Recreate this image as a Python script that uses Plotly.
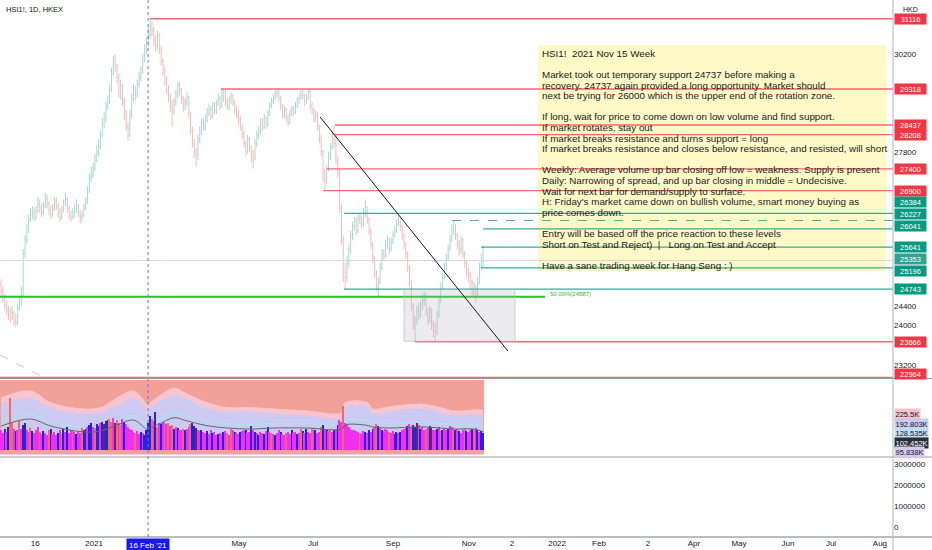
import math
import plotly.graph_objects as go

# daily bars of HSI1! (HKEX); open = previous close
first_open = 24850
closes = [
    24700, 24550, 24400, 24300, 24200, 24150, 24250, 24100, 24050, 24350,
    24500, 24600, 25500, 25800, 26000, 26250, 26350, 26400, 26300, 26450,
    26600, 26500, 26400, 26550, 26700, 26600, 26450, 26350, 26500, 26650,
    26550, 26400, 26300, 26450, 26600, 26700, 26500, 26350, 26300, 26400,
    26500, 26550, 26400, 26300, 26350, 26500, 26650, 26900, 27200, 27250,
    27400, 27600, 27800, 27900, 28200, 28450, 28600, 28900, 29000, 29300,
    29700, 30000, 29900, 29600, 29200, 29400, 29000, 28700, 28400, 28200,
    28700, 29100, 29300, 29200, 29450, 29600, 29800, 30100, 30300, 30500,
    30700, 30950, 30800, 30600, 30400, 30700, 30300, 30000, 29800, 29500,
    29300, 29100, 28900, 28800, 29000, 29200, 29400, 29300, 29100, 28900,
    29000, 29100, 28700, 28300, 28000, 27800, 27700, 28100, 28300, 28500,
    28400, 28600, 28700, 28800, 28650, 28900, 28800, 28950, 29050, 28900,
    29100, 29250, 29000, 28900, 29050, 29150, 29000, 28800, 28700, 28600,
    28400, 28200, 28000, 27800, 28100, 27900, 27700, 27650, 28000, 28200,
    28300, 28500, 28400, 28600, 28450, 28700, 28900, 29000, 29100, 29200,
    29250, 29100, 28900, 28700, 28800, 28600, 28500, 28700, 28800, 28750,
    28900, 29000, 29100, 29200, 29150, 29000, 29100, 29250, 28900, 28800,
    28600, 28700, 28400, 28100, 27800, 27300, 27150, 27400, 27700, 27900,
    28200, 28000, 27600, 27300, 26500, 25800, 25100, 25000, 25300, 25600,
    25900, 26100, 26200, 26000, 26250, 26300, 26150, 26350, 26450, 26250,
    26000, 25700, 25400, 25100, 24800, 24900, 25200, 25500, 25450, 25700,
    25800, 25600, 25750, 25900, 26000, 26150, 26200, 26100, 25900, 25700,
    25500, 25200, 24900, 24400, 24000, 24100, 24300, 24200, 24400, 24500,
    24600, 24300, 24100, 24300, 24000, 23900, 23850, 24200, 24500, 24800,
    25000, 25200, 25400, 25600, 25800, 26000, 26050, 25900, 25700, 25600,
    25800, 25500, 25300, 25100, 25000, 24900, 24700, 24800, 24650, 24900,
    25200, 25350, 25353,
]
highs = [
    24950, 24800, 24650, 24500, 24400, 24350, 24400, 24300, 24250, 24450,
    24600, 24800, 25600, 25900, 26150, 26350, 26500, 26550, 26500, 26550,
    26750, 26700, 26600, 26650, 26850, 26800, 26650, 26550, 26600, 26750,
    26750, 26600, 26500, 26550, 26700, 26850, 26750, 26550, 26450, 26500,
    26600, 26700, 26600, 26450, 26450, 26600, 26750, 27000, 27300, 27450,
    27550, 27750, 27950, 28100, 28300, 28600, 28750, 29000, 29150, 29450,
    29850, 30150, 30200, 29950, 29700, 29550, 29450, 29100, 28800, 28500,
    28800, 29200, 29450, 29400, 29550, 29750, 29900, 30200, 30450, 30650,
    30900, 31116, 31050, 30900, 30700, 30800, 30750, 30400, 30100, 29900,
    29650, 29400, 29200, 29050, 29100, 29300, 29500, 29500, 29350, 29150,
    29100, 29250, 29150, 28750, 28400, 28100, 27900, 28200, 28400, 28600,
    28600, 28700, 28850, 28950, 28900, 29000, 29000, 29050, 29200, 29150,
    29318, 29300, 29300, 29100, 29150, 29250, 29200, 29050, 28900, 28800,
    28650, 28450, 28300, 28050, 28200, 28150, 27950, 27850, 28100, 28300,
    28400, 28600, 28600, 28700, 28650, 28800, 29000, 29100, 29200, 29300,
    29318, 29300, 29150, 28950, 28900, 28850, 28700, 28800, 28900, 28900,
    29000, 29100, 29200, 29300, 29300, 29200, 29200, 29310, 29300, 29000,
    28850, 28800, 28750, 28450, 28200, 27850, 27400, 27500, 27800, 28000,
    28300, 28437, 28208, 27700, 27400, 26600, 25900, 25300, 25450, 25700,
    26000, 26200, 26300, 26300, 26350, 26400, 26350, 26500, 26700, 26550,
    26300, 26050, 25750, 25450, 25150, 25000, 25300, 25600, 25600, 25800,
    25900, 25850, 25850, 26000, 26100, 26250, 26350, 26300, 26150, 25950,
    25750, 25550, 25250, 24950, 24450, 24200, 24400, 24450, 24500, 24650,
    24700, 24650, 24350, 24400, 24350, 24100, 24050, 24300, 24600, 24900,
    25100, 25300, 25500, 25700, 25900, 26150, 26227, 26150, 25950, 25800,
    25900, 25850, 25550, 25350, 25200, 25100, 24950, 24900, 24850, 25000,
    25300, 25500, 25680,
]
lows = [
    24600, 24450, 24300, 24200, 24100, 24050, 24100, 24000, 23950, 24000,
    24300, 24400, 24600, 25400, 25700, 25950, 26200, 26250, 26200, 26250,
    26400, 26400, 26300, 26350, 26500, 26500, 26350, 26250, 26300, 26450,
    26450, 26300, 26200, 26250, 26400, 26550, 26400, 26250, 26200, 26250,
    26300, 26400, 26300, 26150, 26200, 26300, 26450, 26600, 26850, 27100,
    27200, 27350, 27550, 27700, 27850, 28150, 28350, 28500, 28800, 28950,
    29250, 29650, 29750, 29450, 29100, 29050, 28900, 28550, 28300, 28050,
    28150, 28600, 29000, 29050, 29100, 29350, 29500, 29700, 30000, 30200,
    30400, 30600, 30650, 30400, 30250, 30300, 30200, 29900, 29650, 29400,
    29200, 29000, 28750, 28400, 28700, 28900, 29100, 29150, 28950, 28750,
    28800, 28900, 28600, 28200, 27900, 27650, 27450, 27600, 28000, 28200,
    28300, 28300, 28500, 28650, 28550, 28600, 28700, 28700, 28900, 28800,
    28850, 29000, 28900, 28800, 28800, 28950, 28900, 28700, 28600, 28450,
    28300, 28100, 27900, 27700, 27750, 27800, 27550, 27400, 27600, 27900,
    28100, 28200, 28300, 28350, 28350, 28400, 28650, 28850, 28950, 29050,
    29100, 29000, 28800, 28600, 28600, 28500, 28400, 28450, 28650, 28650,
    28700, 28850, 28950, 29050, 29050, 28900, 28950, 29050, 28800, 28700,
    28500, 28500, 28300, 28000, 27700, 27100, 26900, 27050, 27350, 27600,
    27850, 27900, 27500, 27200, 26400, 25700, 24900, 24743, 24900, 25200,
    25500, 25800, 26000, 25900, 25950, 26150, 26050, 26100, 26300, 26150,
    25900, 25600, 25300, 25000, 24700, 24550, 24850, 25150, 25350, 25400,
    25600, 25500, 25550, 25700, 25850, 25950, 26100, 26000, 25800, 25600,
    25400, 25100, 24800, 24300, 23900, 23666, 24000, 24100, 24150, 24300,
    24400, 24200, 24000, 24050, 23900, 23750, 23680, 23800, 24150, 24450,
    24750, 24950, 25150, 25350, 25550, 25750, 25900, 25800, 25600, 25450,
    25500, 25400, 25200, 25000, 24900, 24750, 24600, 24600, 24450, 24600,
    24850, 25150, 25200,
]

# volume-style indicator (values in K)
vol = [
    110, 95, 120, 100, 130, 295, 150, 120, 105, 115,
    165, 120, 140, 150, 110, 100, 125, 105, 95, 110,
    130, 100, 90, 105, 95, 85, 110, 120, 90, 100,
    85, 95, 110, 90, 120, 100, 130, 95, 115, 105,
    100, 90, 105, 95, 125, 110, 120, 130, 140, 150,
    130, 125, 145, 135, 150, 160, 145, 165, 170, 175,
    160, 180, 150, 170, 155, 140, 175, 160, 145, 130,
    120, 110, 100, 95, 105, 90, 100, 95, 85, 110,
    150, 190, 175, 165, 215, 130, 155, 145, 160, 150,
    145, 150, 135, 140, 120, 130, 125, 115, 110, 120,
    110, 120, 130, 145, 155, 135, 125, 115, 105, 110,
    100, 95, 105, 90, 110, 95, 100, 85, 90, 95,
    90, 100, 105, 95, 85, 120, 110, 100, 95, 90,
    100, 105, 110, 115, 95, 100, 135, 110, 100, 95,
    85, 100, 95, 90, 105, 130, 100, 95, 90, 85,
    95, 110, 100, 90, 85, 95, 100, 90, 110, 95,
    100, 90, 95, 120, 105, 95, 120, 100, 95, 120,
    110, 115, 95, 100, 130, 140, 120, 110, 105, 115,
    100, 110, 120, 140, 170, 160, 248, 150, 140, 130,
    120, 115, 110, 105, 100, 95, 90, 105, 100, 95,
    110, 100, 120, 130, 145, 135, 125, 115, 105, 120,
    110, 100, 95, 105, 90, 100, 95, 100, 110, 120,
    125, 135, 145, 130, 140, 130, 150, 140, 120, 130,
    110, 120, 125, 135, 130, 115, 110, 120, 130, 105,
    115, 125, 110, 120, 135, 130, 125, 110, 120, 105,
    95, 110, 120, 105, 100, 115, 120, 110, 125, 110,
    100, 105, 95.838,
]
vol_kind = (
    "mmbmbrrmbm" "rmbbmmrbmm" "mrmbmmrbmm" "mbmrbmbmmr" "mbmmrbbmbb"
    "mrbbmbdbbr" "rmdrmrmbmm" "mmmrmmbmbb" "bbrmbrmbmr" "mrmrbmbmmr"
    "bmmrbbdmmb" "mmbmmbmmbm" "mbmrmrmbmm" "bmmbmmbmbm" "bmmbmbmrmb"
    "mmbmmrmmbm" "mbmrbmbmmr" "mbmmrbmbmr" "mbmbmmrmmm" "mmmmmrmmbm"
    "bmbmrbmbmm" "mrmmbbmbmm" "mbmrbbdmbm" "mrmbdmmbmr" "bmmbmmrbmb"
    "mmrbmmbrmb" "mbb"
)
# band curves of the indicator (K), sampled at these bars
band_bars = [0, 16, 27, 45, 54, 63, 72, 77, 79, 86, 94, 101, 112, 123,
             135, 148, 166, 185, 187, 199, 202, 211, 228, 239, 246, 257, 262]
band_pink = [295, 333, 267, 231, 239, 295, 333, 288, 259, 305, 348, 316, 267, 239,
             239, 231, 220, 210, 267, 267, 231, 244, 259, 239, 220, 226, 225.5]
band_lav = [259, 288, 231, 203, 209, 248, 288, 254, 220, 271, 305, 282, 231, 210,
            214, 203, 192, 182, 239, 237, 203, 214, 231, 209, 192, 197, 192.803]
band_blue = [160, 200, 160, 128, 132, 166, 195, 160, 143, 172, 208, 190, 162, 149,
             143, 149, 149, 143, 166, 164, 155, 149, 155, 149, 143, 140, 128.535]
band_ma = [135, 175, 135, 102, 107, 141, 169, 135, 118, 147, 182, 164, 137, 124,
           118, 124, 124, 118, 141, 139, 130, 124, 130, 124, 118, 118, 102.452]

# drawn levels: (price, first bar)
red_levels = [31116, 29318, 28437, 28208, 27400, 26900, 23666, 22964]
red_starts = [81, 119.6, 181.5, 181.5, 177.2, 175, 225, -0.6]
teal_levels = [26384, 26041, 25641, 25196, 24743]
teal_starts = [186.4, 262, 260.9, 260.9, 186.4]
dashed_level, dashed_start = 26227, 245.1
last_price = 25353
fib_level, fib_end = 24587, 295.7
zone_bars = [219, 279.3]
zone_prices = [24743, 23675]
trend_bars = [173.4, 275.5]
trend_prices = [28630, 23480]
faint_bars = [-0.6, 22.8]
faint_prices = [23400, 22970]
cross_bar = 79.9

tick_bars = [18.5, 50.5, 129.3, 169.6, 213, 254.3, 277.7, 302.2, 325,
             351.6, 376.6, 401.1, 427.7, 451.1, 477.7]
tick_text = ["16", "2021", "May", "Jul", "Sep", "Nov", "2", "2022", "Feb",
             "2", "Apr", "May", "Jun", "Jul", "Aug"]
price_ticks = [30200, 27800, 24400, 24000, 23200]
volume_ticks = [0, 1000000, 2000000, 3000000]

note_lines = [
    "HSI1!  2021 Nov 15 Week",
    "",
    "Market took out temporary support 24737 before making a",
    "recovery. 24737 again provided a long opportunity. Market should",
    "next be trying for 26000 which is the upper end of the rotation zone.",
    "",
    "If long, wait for price to come down on low volume and find support.",
    "If market rotates, stay out",
    "If market breaks resistance and turns support = long",
    "If market breaks resistance and closes below resistance, and resisted, will short",
    "",
    "Weekly: Average volume up bar closing off low = weakness. Supply is present",
    "Daily: Narrowing of spread, and up bar closing in middle = Undecisive.",
    "Wait for next bar for demand/supply to surface.",
    "H: Friday's market came down on bullish volume, smart money buying as",
    "price comes down.",
    "",
    "Entry will be based off the price reaction to these levels",
    "Short on Test and Reject)  |   Long on Test and Accept",
    "",
    "Have a sane trading week for Hang Seng : )",
]

# ---- layout helpers (pixel -> paper) ----
W, H = 932, 550
PW, PH = 893, 537
X_MAX = 484.8
RED, TEAL = "#f23645", "#089981"
RED_LINE, TEAL_LINE = "rgba(242,54,69,0.75)", "rgba(8,153,129,0.8)"
FONT = "Liberation Sans"


def px_x(px):
    return px / PW


def px_y(py):
    return 1 - py / PH


bars = list(range(len(closes)))
opens = [first_open] + closes[:-1]

fig = go.Figure()

fig.add_trace(go.Ohlc(
    x=bars, open=opens, high=highs, low=lows, close=closes,
    increasing_line_color="#a6dad3", decreasing_line_color="#f6bcbc",
    line_width=1, tickwidth=0.35, hoverinfo="skip", xaxis="x", yaxis="y"))


def hline(level, x0, x1, color, width=1.2, dash="solid"):
    fig.add_trace(go.Scatter(
        x=[x0, x1], y=[level, level], mode="lines", hoverinfo="skip",
        line=dict(color=color, width=width, dash=dash), xaxis="x", yaxis="y"))


hline(last_price, -0.6, X_MAX, "#d6d8de", 1.2)
for lvl, st in zip(red_levels, red_starts):
    hline(lvl, st, X_MAX, RED_LINE, 1.3)
for lvl, st in zip(teal_levels, teal_starts):
    hline(lvl, st, X_MAX, TEAL_LINE, 1.2)
hline(dashed_level, dashed_start, X_MAX, "rgba(8,153,129,0.75)", 1.2, "dash")
hline(fib_level, -0.6, fib_end, "#2bc02b", 2)

fig.add_trace(go.Scatter(
    x=[zone_bars[0], zone_bars[1], zone_bars[1], zone_bars[0], zone_bars[0]],
    y=[zone_prices[0], zone_prices[0], zone_prices[1], zone_prices[1], zone_prices[0]],
    mode="lines", fill="toself", fillcolor="rgba(178,181,190,0.25)",
    line=dict(color="rgba(178,181,190,0.6)", width=1), hoverinfo="skip",
    xaxis="x", yaxis="y"))
fig.add_trace(go.Scatter(
    x=trend_bars, y=trend_prices, mode="lines", hoverinfo="skip",
    line=dict(color="#131722", width=1), xaxis="x", yaxis="y"))
fig.add_trace(go.Scatter(
    x=faint_bars, y=faint_prices, mode="lines", hoverinfo="skip",
    line=dict(color="#c8cad0", width=1, dash="dash"), xaxis="x", yaxis="y"))

# indicator pane: bands on y2, bars and average on y4 drawn over them
fig.add_trace(go.Scatter(
    x=band_bars, y=band_pink, mode="lines", line=dict(color="#f8c4cf", width=1, shape="spline"),
    fill="tozeroy", fillcolor="#f8c4cf", hoverinfo="skip", xaxis="x", yaxis="y2"))
fig.add_trace(go.Scatter(
    x=band_bars, y=band_lav, mode="lines", line=dict(color="#cccaf3", width=1, shape="spline"),
    fill="tozeroy", fillcolor="#cccaf3", hoverinfo="skip", xaxis="x", yaxis="y2"))
fig.add_trace(go.Scatter(
    x=band_bars, y=band_blue, mode="lines", line=dict(color="#aee0ef", width=1.5, shape="spline"),
    hoverinfo="skip", xaxis="x", yaxis="y2"))
kind_color = {"b": "#2525dc", "m": "#f22ef2", "r": "#f06a6a", "d": "#5b2b6e"}
fig.add_trace(go.Bar(
    x=bars, y=vol, width=0.78, marker=dict(color=[kind_color[k] for k in vol_kind], line_width=0),
    hoverinfo="skip", xaxis="x", yaxis="y4"))
fig.add_trace(go.Scatter(
    x=band_bars, y=band_ma, mode="lines", line=dict(color="#5a6b6b", width=1, shape="spline"),
    hoverinfo="skip", xaxis="x", yaxis="y4"))

# empty volume pane
fig.add_trace(go.Scatter(x=[None], y=[None], mode="lines", xaxis="x", yaxis="y3",
                         hoverinfo="skip"))

ind_range = [-39.5, 406]

shapes = [
    # note box
    dict(type="rect", xref="paper", yref="paper", x0=px_x(538), x1=px_x(886),
         y0=px_y(271), y1=px_y(45), fillcolor="rgba(255,241,118,0.4)",
         line_width=0, layer="below"),
    # indicator background
    dict(type="rect", xref="x", yref="y2", x0=-0.6, x1=len(closes) - 0.5,
         y0=-25, y1=395, fillcolor="#f2a198", line_width=0, layer="below"),
    # crosshair
    dict(type="line", xref="x", yref="paper", x0=cross_bar, x1=cross_bar, y0=0, y1=1,
         line=dict(color="#6a6aff", width=1, dash="dot")),
]
for py in (378.5, 457):
    shapes.append(dict(type="line", xref="paper", yref="paper", x0=0, x1=W / PW,
                       y0=px_y(py), y1=px_y(py), line=dict(color="#9598a1", width=1)))
shapes.append(dict(type="line", xref="paper", yref="paper", x0=0, x1=W / PW,
                   y0=0, y1=0, line=dict(color="#787b86", width=1)))
shapes.append(dict(type="line", xref="paper", yref="paper", x0=1, x1=1,
                   y0=-13 / PH, y1=1, line=dict(color="#b2b5be", width=1)))

ann = []
for i, line in enumerate(note_lines):
    if line:
        ann.append(dict(xref="paper", yref="paper", x=px_x(540), y=px_y(53.3 + 10.6 * i),
                        xanchor="left", yanchor="middle", showarrow=False, text=line,
                        font=dict(family=FONT, size=9.8, color="#222222")))


def tag(level, color, shift=0):
    ann.append(dict(xref="paper", yref="y", x=1, y=math.log10(level), xanchor="left",
                    yanchor="middle", xshift=1, yshift=shift, showarrow=False,
                    text=str(level), bgcolor=color, borderpad=0.5, width=30,
                    font=dict(family=FONT, size=7.5, color="white")))


red_shift = {22964: 3}
for lvl in red_levels:
    tag(lvl, RED, red_shift.get(lvl, 0))
teal_shift = {26384: 11, 26041: 3, 25196: -3}
for lvl in teal_levels:
    tag(lvl, TEAL, teal_shift.get(lvl, 0))
tag(dashed_level, TEAL, 6)
tag(last_price, "#2fa394", 1.5)

# indicator value tags (stacked)
ind_tags = [(band_pink[-1], "#f6c1cf", "#131722", 414), (band_lav[-1], "#c9c9f1", "#131722", 423.5),
            (band_blue[-1], "#bfdcf5", "#131722", 433), (band_ma[-1], "#2a2e39", "white", 442.5),
            (vol[-1], "#d3c9ef", "#131722", 452)]
for val, bg, fc, py in ind_tags:
    ann.append(dict(xref="paper", yref="paper", x=1, y=px_y(py), xanchor="left",
                    yanchor="middle", xshift=1, showarrow=False, text=f"{val:g}K",
                    bgcolor=bg, borderpad=0.5, font=dict(family=FONT, size=7.5, color=fc)))

ann.append(dict(xref="paper", yref="paper", x=px_x(4), y=px_y(9), xanchor="left",
                yanchor="middle", showarrow=False, text="HSI1!, 1D, HKEX",
                font=dict(family=FONT, size=7.5, color="#131722")))
ann.append(dict(xref="paper", yref="paper", x=px_x(910), y=px_y(10), xanchor="center",
                yanchor="middle", showarrow=False, text="HKD",
                font=dict(family=FONT, size=7, color="#131722")))
ann.append(dict(xref="paper", yref="paper", x=px_x(548), y=px_y(293.5), xanchor="left",
                yanchor="middle", showarrow=False, text=f"50.00%({fib_level})",
                font=dict(family=FONT, size=6, color="#2bc02b")))
ann.append(dict(xref="x", yref="paper", x=cross_bar, y=0, xanchor="center", yanchor="top",
                yshift=-1, showarrow=False, text="16 Feb '21", bgcolor="#1a1ae6", borderpad=2,
                font=dict(family=FONT, size=8, color="white")))

fig.update_layout(
    width=W, height=H, margin=dict(l=0, r=W - PW, t=0, b=H - PH),
    paper_bgcolor="white", plot_bgcolor="white", showlegend=False, hovermode=False,
    font=dict(family=FONT, size=8, color="#131722"),
    shapes=shapes, annotations=ann, bargap=0,
    xaxis=dict(domain=[0, 1], range=[-0.6, X_MAX], anchor="y3", tickmode="array",
               tickvals=tick_bars, ticktext=tick_text, showgrid=False, zeroline=False,
               showline=False, ticks="", tickfont=dict(size=8), rangeslider=dict(visible=False)),
    yaxis=dict(type="log", domain=[1 - 378 / PH, 1], anchor="x", side="right",
               range=[math.log10(22950), math.log10(31614)], tickmode="array",
               tickvals=price_ticks, ticktext=[str(v) for v in price_ticks],
               showgrid=False, zeroline=False, ticks="", tickfont=dict(size=8)),
    yaxis2=dict(domain=[1 - 457 / PH, 1 - 378 / PH], anchor="x", side="right",
                range=ind_range, showticklabels=False, showgrid=False, zeroline=False),
    yaxis4=dict(overlaying="y2", anchor="x", side="right", range=ind_range,
                showticklabels=False, showgrid=False, zeroline=False),
    yaxis3=dict(domain=[0, 1 - 457 / PH], anchor="x", side="right",
                range=[-476190, 3333333], tickmode="array", tickvals=volume_ticks,
                ticktext=[str(v) for v in volume_ticks], showgrid=False, zeroline=False,
                ticks="", tickfont=dict(size=8)),
)

# the page body has a default 8px margin; drop it so the figure fills the window
fig.write_html("out.html", config={"displayModeBar": False},
               post_script="document.body.style.margin='0';")
